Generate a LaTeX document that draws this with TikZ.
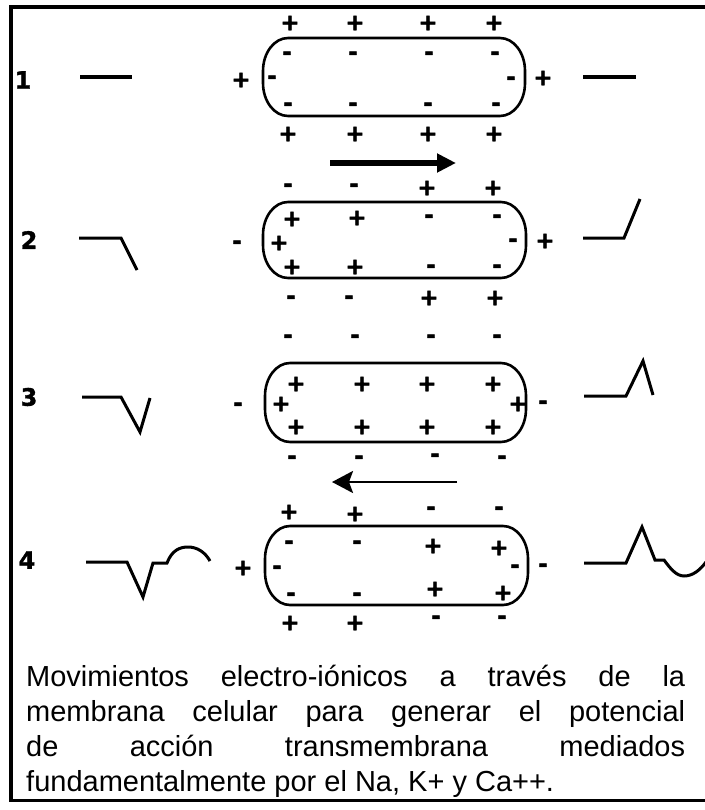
\documentclass[tikz,border=0pt]{standalone}
\usepackage{fontspec}
\setmainfont{Liberation Sans}
\newfontfamily\signfont{DejaVu Sans}[BoldFeatures={FakeBold=1.5}]
\usetikzlibrary{arrows.meta}

% wall of a cell: flattened elliptic ends around the box of node #1
\newcommand\cellwall[1]{%
  \draw[membrane] ([xshift=25pt]#1.north west) -- ([xshift=-25pt]#1.north east)
    .. controls +(13.8,0) and +(0,-18.2) .. ([yshift=-33pt]#1.north east)
    -- ([yshift=33pt]#1.south east)
    .. controls +(0,18.2) and +(13.8,0) .. ([xshift=-25pt]#1.south east)
    -- ([xshift=25pt]#1.south west)
    .. controls +(-13.8,0) and +(0,18.2) .. ([yshift=33pt]#1.south west)
    -- ([yshift=-33pt]#1.north west)
    .. controls +(0,-18.2) and +(-13.8,0) .. cycle;}

\begin{document}
\begin{tikzpicture}[x=1pt,y=-1pt,
  membrane/.style={line width=2.6pt},
  cellbox/.style={inner sep=0pt, outer sep=0pt},
  wave/.style={line width=3pt, line join=miter},
  rest/.style={line width=4.5pt},
  sign/.style={font=\signfont\bfseries\fontsize{23}{23}\selectfont, inner sep=0pt, anchor=base},
  plus/.style={sign, yshift=-8.3pt},
  minus/.style={sign, yshift=-6.9pt},
  stage/.style={font=\signfont\bfseries\fontsize{24}{24}\selectfont, inner sep=0pt},
  frame/.style={line width=4pt},
]
\useasboundingbox (0,0) rectangle (704,810);
\fill[white] (0,0) rectangle (704,810);

% outer frame (open on the right)
\draw[frame] (706,7.5) -- (10.5,7.5) -- (10.5,800);
\draw[line width=3pt] (9,800) -- (706,800);

% stage numbers
\node[stage] (n1) at (23,80) {1};
\node[stage] (n2) at (29,240) {2};
\node[stage] (n3) at (29,397) {3};
\node[stage] (n4) at (27,560) {4};

% cell membranes
\node[cellbox, minimum width=262pt, minimum height=78pt] (cell1) at (394,77) {};
\node[cellbox, minimum width=263pt, minimum height=76pt] (cell2) at (394.5,240) {};
\node[cellbox, minimum width=261pt, minimum height=79pt] (cell3) at (395.5,402.5) {};
\node[cellbox, minimum width=263pt, minimum height=79pt] (cell4) at (396.5,565.5) {};
\cellwall{cell1}
\cellwall{cell2}
\cellwall{cell3}
\cellwall{cell4}

% charges, stage 1
\foreach \x/\y [count=\i] in {290/22,355/22,428/22,494/22,241/79,543/77,288/133,355/133,428/133,494/133}
  \node[plus] (a\i) at (\x,\y) {+};
\foreach \x/\y [count=\i] in {287/53,353/53,429/53,495/53,272/77,511/78,288/104,353/104,428/104,496/104}
  \node[minus] (b\i) at (\x,\y) {-};

% charges, stage 2
\foreach \x/\y [count=\i] in {427/187,493/187,292/218,357/217,279/242,545/240,292/266,355/266,429/297,495/297}
  \node[plus] (c\i) at (\x,\y) {+};
\foreach \x/\y [count=\i] in {288/185,354/185,429/216,497/216,513/240,237/242,431/266,497/266,291/297,349/297}
  \node[minus] (d\i) at (\x,\y) {-};

% charges, stage 3
\foreach \x/\y [count=\i] in {296/383,362/383,427/383,493/383,281/403,518/403,296/426,362/426,427/426,493/426}
  \node[plus] (e\i) at (\x,\y) {+};
\foreach \x/\y [count=\i] in {288/336,355/336,431/336,497/336,238/404,543/402,292/457,359/457,435/455,502/457}
  \node[minus] (f\i) at (\x,\y) {-};

% charges, stage 4
\foreach \x/\y [count=\i] in {289/511,355/513,433/545,499/547,243/567,435/588,503/592,290/622,355/622}
  \node[plus] (g\i) at (\x,\y) {+};
\foreach \x/\y [count=\i] in {431/508,499/508,289/542,357/542,277/567,515/566,543/565,291/594,357/594,436/617,502/617}
  \node[minus] (h\i) at (\x,\y) {-};

% direction of propagation
\coordinate (p1) at (330,163);
\coordinate (p2) at (456,163);
\draw[line width=6pt, -{Triangle[length=19pt,width=18pt]}] (p1) -- (p2);
\coordinate (q1) at (457,482);
\coordinate (q2) at (332,482);
\draw[line width=2.7pt, -{Stealth[length=21pt,width=22pt,inset=4pt]}] (q1) -- (q2);

% recorded potentials, left side
\draw[rest] (80,77) -- (132,77);
\draw[wave] (79,238) -- (121,238) -- (137,270);
\draw[wave] (82,397) -- (121,397) -- (140,432) -- (150,398);
\draw[wave] (86,562) -- (127,562) -- (143,597) -- (153,563) -- (167,563)
  .. controls (172,550) and (180,547) .. (188,547)
  .. controls (197,547) and (205,552) .. (210,561);

% recorded potentials, right side
\draw[rest] (583,77) -- (636,77);
\draw[wave] (583,238) -- (624,238) -- (640,199);
\draw[wave] (584,396) -- (626,396) -- (643,361) -- (653,395);
\draw[wave] (584,563) -- (626,563) -- (642,527) -- (655,560) -- (664,560)
  .. controls (670,568) and (676,576) .. (684,576)
  .. controls (693,576) and (700,570) .. (706,562);

% caption
\node[anchor=north west, inner sep=0pt, text width=659pt, align=justify,
      font=\fontsize{29}{35}\selectfont] (caption) at (26,656)
  {\hyphenpenalty=10000\exhyphenpenalty=10000\rule{0pt}{30pt}Movimientos electro-iónicos a través de la\linebreak
   membrana celular para generar el potencial\linebreak
   de acción transmembrana mediados\linebreak
   fundamentalmente por el Na, K+ y Ca++.};
\end{tikzpicture}
\end{document}
